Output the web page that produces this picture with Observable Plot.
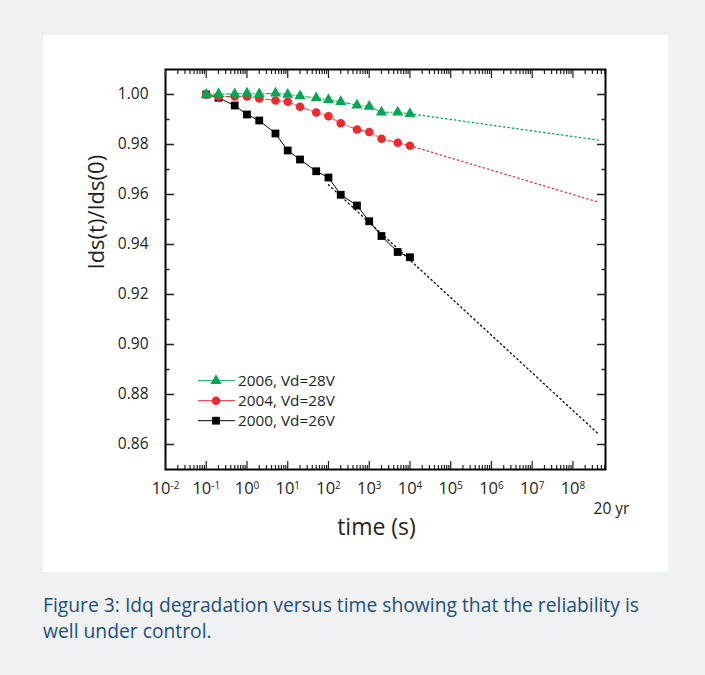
<!DOCTYPE html>
<html><head><meta charset="utf-8">
<script src="https://cdn.jsdelivr.net/npm/d3@7"></script>
<script src="https://cdn.jsdelivr.net/npm/@observablehq/plot@0.6"></script>
<style>
html,body{margin:0;padding:0;background:#f0f1f3;width:705px;height:675px;overflow:hidden;font-family:"Open Sans",sans-serif;}
#panel{position:absolute;left:43px;top:35px;width:625px;height:537px;background:#fff;}
#chart{position:absolute;left:0;top:0;}
#legend{position:absolute;left:0;top:0;pointer-events:none;}
#caption{position:absolute;left:43px;top:592px;width:660px;font-size:19.3px;line-height:26px;color:#1d4f7c;}
</style></head><body>
<div id="panel"></div>
<div id="chart"></div>
<svg id="legend" width="705" height="675"></svg>
<div id="caption">Figure 3: Idq degradation versus time showing that the reliability is<br>well under control.</div>
<script>
// ---- data ----
const times = [0.1, 0.2, 0.5, 1, 2, 5, 10, 20, 50, 100, 200, 500, 1000, 2000, 5000, 10000];
const v2006 = [1.000, 1.0002, 1.0002, 1.0005, 1.0002, 1.0005, 1.000, 0.9994, 0.9986, 0.9979, 0.9971, 0.9957, 0.9952, 0.9929, 0.9929, 0.9923];
const v2004 = [1.000, 0.9992, 0.9992, 0.9992, 0.9984, 0.9976, 0.9971, 0.9951, 0.9928, 0.9913, 0.9885, 0.9860, 0.9850, 0.9823, 0.9807, 0.9795];
const v2000 = [1.000, 0.9987, 0.9956, 0.9920, 0.9896, 0.9844, 0.9776, 0.9740, 0.9693, 0.9668, 0.9599, 0.9556, 0.9493, 0.9434, 0.9370, 0.9349];
// extrapolation lines toward 20 years
const ext2006T = [1e4, 4.5e8], ext2006V = [0.9923, 0.9817];
const ext2004T = [1e4, 4.5e8], ext2004V = [0.9795, 0.9568];
const ext2000T = [100, 4.5e8], ext2000V = [0.9639, 0.8638];
const seriesNames = ["2006, Vd=28V", "2004, Vd=28V", "2000, Vd=26V"];
const xDecades = [1e-2, 1e-1, 1e0, 1e1, 1e2, 1e3, 1e4, 1e5, 1e6, 1e7, 1e8];
const yTicks = [0.86, 0.88, 0.90, 0.92, 0.94, 0.96, 0.98, 1.00];
const yMinor = [0.87, 0.89, 0.91, 0.93, 0.95, 0.97, 0.99];
const twentyYears = [6.3e8];
const twentyYearsLabel = "20 yr";
const xLabel = "time (s)";
const yLabel = "Ids(t)/Ids(0)";

// ---- styles ----
const colors = ["#00a651", "#ee2a2f", "#000000"];
const symbols = ["triangle", "circle", "square"];
const radii = [4.1, 4.3, 4.4];
const dashes = ["5,2,1,2", "5,2,1,2", null];

const valueSets = [v2006, v2004, v2000];
const extSets = [[ext2006T, ext2006V], [ext2004T, ext2004V], [ext2000T, ext2000V]];
const rows = valueSets.map(vs => times.map((t, i) => ({t, v: vs[i]})));
const extRows = extSets.map(([ts, vs]) => ts.map((t, i) => ({t, v: vs[i]})));
const xMinor = xDecades.flatMap(d => d3.range(2, 10).map(k => d * k)).filter(x => x < 6.3e8);

const order = [2, 1, 0];
const marks = [];
for (const i of order) {
  marks.push(Plot.line(extRows[i], {x: "t", y: "v", stroke: colors[i], strokeWidth: 1.3, strokeDasharray: "1.3,3.2"}));
}
for (const i of order) {
  marks.push(Plot.line(rows[i], {x: "t", y: "v", stroke: colors[i], strokeWidth: 1, strokeDasharray: dashes[i]}));
  marks.push(Plot.dot(rows[i], {x: "t", y: "v", symbol: symbols[i], r: radii[i], fill: colors[i], stroke: "none"}));
}
marks.push(
  Plot.frame({strokeWidth: 2, stroke: "#000"}),
  Plot.axisX(xDecades, {anchor: "bottom", tickSize: -8, fill: "none", label: null, strokeWidth: 1.2}),
  Plot.axisX(xMinor, {anchor: "bottom", tickSize: -4, fill: "none", label: null, strokeWidth: 1.2}),
  Plot.axisX(xDecades, {anchor: "top", tickSize: -8, fill: "none", label: null, strokeWidth: 1.2}),
  Plot.axisX(xMinor, {anchor: "top", tickSize: -4, fill: "none", label: null, strokeWidth: 1.2}),
  Plot.axisX(xDecades, {anchor: "bottom", tickSize: 0, tickPadding: 13, fontSize: 16.5, label: null,
    tickFormat: d => "10^" + Math.round(Math.log10(d))}),
  Plot.text(twentyYears, {x: d => d, text: () => twentyYearsLabel, frameAnchor: "bottom", dx: 6, dy: 40,
    fontSize: 15.5, lineAnchor: "middle"}),
  Plot.axisY(yTicks, {anchor: "left", tickSize: -9, fill: "none", label: null, strokeWidth: 1.5}),
  Plot.axisY(yMinor, {anchor: "left", tickSize: -4.5, fill: "none", label: null, strokeWidth: 1.5}),
  Plot.axisY(yTicks, {anchor: "right", tickSize: -9, fill: "none", label: null, strokeWidth: 1.5}),
  Plot.axisY(yMinor, {anchor: "right", tickSize: -4.5, fill: "none", label: null, strokeWidth: 1.5}),
  Plot.axisY(yTicks, {anchor: "left", tickSize: 0, tickPadding: 17, fontSize: 15.5, label: null, tickFormat: ".2f"}),
  Plot.text([xLabel], {text: d => d, frameAnchor: "bottom", dx: -9, dy: 58, fontSize: 23, lineAnchor: "middle"}),
  Plot.text([yLabel], {text: d => d, frameAnchor: "left", dx: -69, rotate: -90, fontSize: 22, lineAnchor: "middle"})
);

const chart = Plot.plot({
  width: 705,
  height: 575,
  marginLeft: 165,
  marginRight: 100,
  marginTop: 69,
  marginBottom: 106,
  x: {type: "log", domain: [1e-2, 6.3e8]},
  y: {domain: [0.85, 1.01]},
  style: {background: "transparent", fontFamily: "Open Sans", color: "#231f20", overflow: "visible"},
  marks
});
document.getElementById("chart").appendChild(chart);

// superscript exponents on the x tick labels
d3.select(chart).selectAll("text").each(function() {
  const s = this.textContent;
  const m = /^10\^(-?\d+)$/.exec(s);
  if (m) {
    const sel = d3.select(this);
    sel.text("10");
    sel.append("tspan").attr("dy", "-0.5em").attr("font-size", "0.6em").text(m[1]);
  }
});

// legend
const lg = d3.select("#legend");
seriesNames.forEach((name, i) => {
  const y = 380.7 + i * 20;
  lg.append("line").attr("x1", 198).attr("x2", 235).attr("y1", y).attr("y2", y)
    .attr("stroke", colors[i]).attr("stroke-width", 1);
  const sym = {triangle: d3.symbolTriangle, circle: d3.symbolCircle, square: d3.symbolSquare}[symbols[i]];
  lg.append("path").attr("transform", `translate(216,${y})`)
    .attr("d", d3.symbol(sym, Math.PI * radii[i] * radii[i])()).attr("fill", colors[i]);
  lg.append("text").attr("x", 238).attr("y", y).attr("dy", "0.35em")
    .attr("font-family", "Open Sans").attr("font-size", 15.3).attr("fill", "#231f20").text(name);
});
</script>
</body></html>
